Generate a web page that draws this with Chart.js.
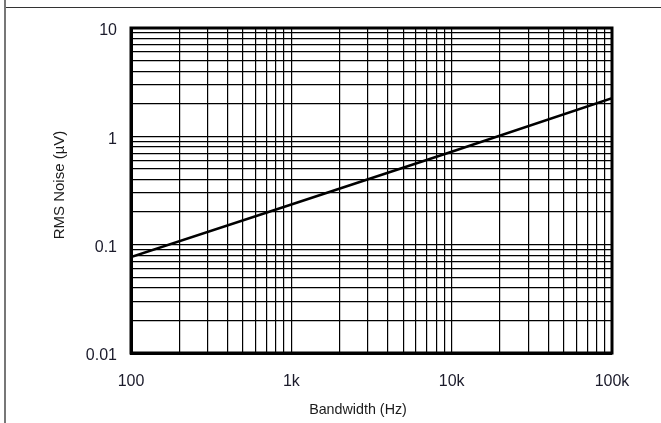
<!DOCTYPE html>
<html>
<head>
<meta charset="utf-8">
<script src="https://cdn.jsdelivr.net/npm/chart.js@4.4.1/dist/chart.umd.min.js"></script>
<style>
  html, body { margin: 0; padding: 0; background: #fff; }
  .wrap { position: relative; width: 661px; height: 423px; overflow: hidden; }
  .frameLeft { position: absolute; left: 4px; top: 0; width: 2px; height: 423px; background: #777; }
  .frameTop { position: absolute; left: 6px; top: 7px; width: 655px; height: 1px; background: #333; }
  canvas { position: absolute; left: 0; top: 0; }
</style>
</head>
<body>
<div class="wrap">
  <canvas id="noiseChart" width="661" height="423"></canvas>
  <div class="frameLeft"></div>
  <div class="frameTop"></div>
</div>
<script>
const bandwidth = [100, 1000, 10000, 100000];
const rmsNoise = [0.077, 0.235, 0.72, 2.25];

const xTickValues = [100, 1000, 10000, 100000];
const xTickLabels = ['100', '1k', '10k', '100k'];
const yTickValues = [0.01, 0.1, 1, 10];
const yTickLabels = ['0.01', '0.1', '1', '10'];

const xTitle = 'Bandwidth (Hz)';
const yTitle = 'RMS Noise (µV)';

// grid lines at 1..9 of each decade
function decadeGrid(lo, hi) {
    const out = [];
    for (let d = lo; d < hi; d *= 10) {
        for (let m = 1; m < 10; m++) out.push(+(m * d).toPrecision(3));
    }
    out.push(hi);
    return out;
}

function labelFor(values, labels) {
    return function (value) {
        const i = values.findIndex(v => Math.abs(v - value) / v < 1e-6);
        return i >= 0 ? labels[i] : '';
    };
}

const family = 'Liberation Sans, Arial, sans-serif';
const tickFont = { family: family, size: 16 };

new Chart(document.getElementById('noiseChart'), {
    type: 'scatter',
    data: {
        datasets: [{
            data: bandwidth.map((b, i) => ({ x: b, y: rmsNoise[i] })),
            showLine: true,
            borderColor: '#000',
            borderWidth: 2.5,
            pointRadius: 0,
            tension: 0
        }]
    },
    options: {
        responsive: false,
        animation: false,
        layout: { padding: { left: 0, top: 28, right: 49, bottom: 0 } },
        plugins: { legend: { display: false }, tooltip: { enabled: false } },
        scales: {
            x: {
                type: 'logarithmic',
                min: 100,
                max: 100000,
                afterBuildTicks: s => { s.ticks = decadeGrid(100, 100000).map(v => ({ value: v })); },
                afterFit: s => { s.height = 70; },
                ticks: {
                    autoSkip: false,
                    maxRotation: 0,
                    padding: 19,
                    color: '#1b1b2b',
                    font: tickFont,
                    callback: labelFor(xTickValues, xTickLabels)
                },
                grid: { color: '#000', lineWidth: 1.2, drawTicks: false },
                border: { color: '#000', width: 3 }
            },
            y: {
                type: 'logarithmic',
                min: 0.01,
                max: 10,
                afterBuildTicks: s => { s.ticks = decadeGrid(0.01, 10).map(v => ({ value: v })); },
                afterFit: s => { s.width = 131; },
                ticks: {
                    autoSkip: false,
                    padding: 14,
                    labelOffset: 3,
                    color: '#1b1b2b',
                    font: tickFont,
                    callback: labelFor(yTickValues, yTickLabels)
                },
                grid: { color: '#000', lineWidth: 1.2, drawTicks: false },
                border: { color: '#000', width: 3 }
            }
        }
    },
    plugins: [{
        id: 'plotFrame',
        afterDraw(chart) {
            const { ctx, chartArea: a } = chart;
            ctx.save();
            ctx.strokeStyle = '#000';
            ctx.lineWidth = 3;
            ctx.strokeRect(a.left, a.top, a.right - a.left, a.bottom - a.top);

            // axis titles (sit a little left of the plot centre in the original)
            ctx.fillStyle = '#1b1b1b';
            ctx.textAlign = 'center';
            ctx.textBaseline = 'middle';
            ctx.font = '14.3px ' + family;
            ctx.fillText(xTitle, 358, 410);
            ctx.translate(59.5, 185);
            ctx.rotate(-Math.PI / 2);
            ctx.font = '15px ' + family;
            ctx.fillText(yTitle, 0, 0);
            ctx.restore();
        }
    }]
});
</script>
</body>
</html>
